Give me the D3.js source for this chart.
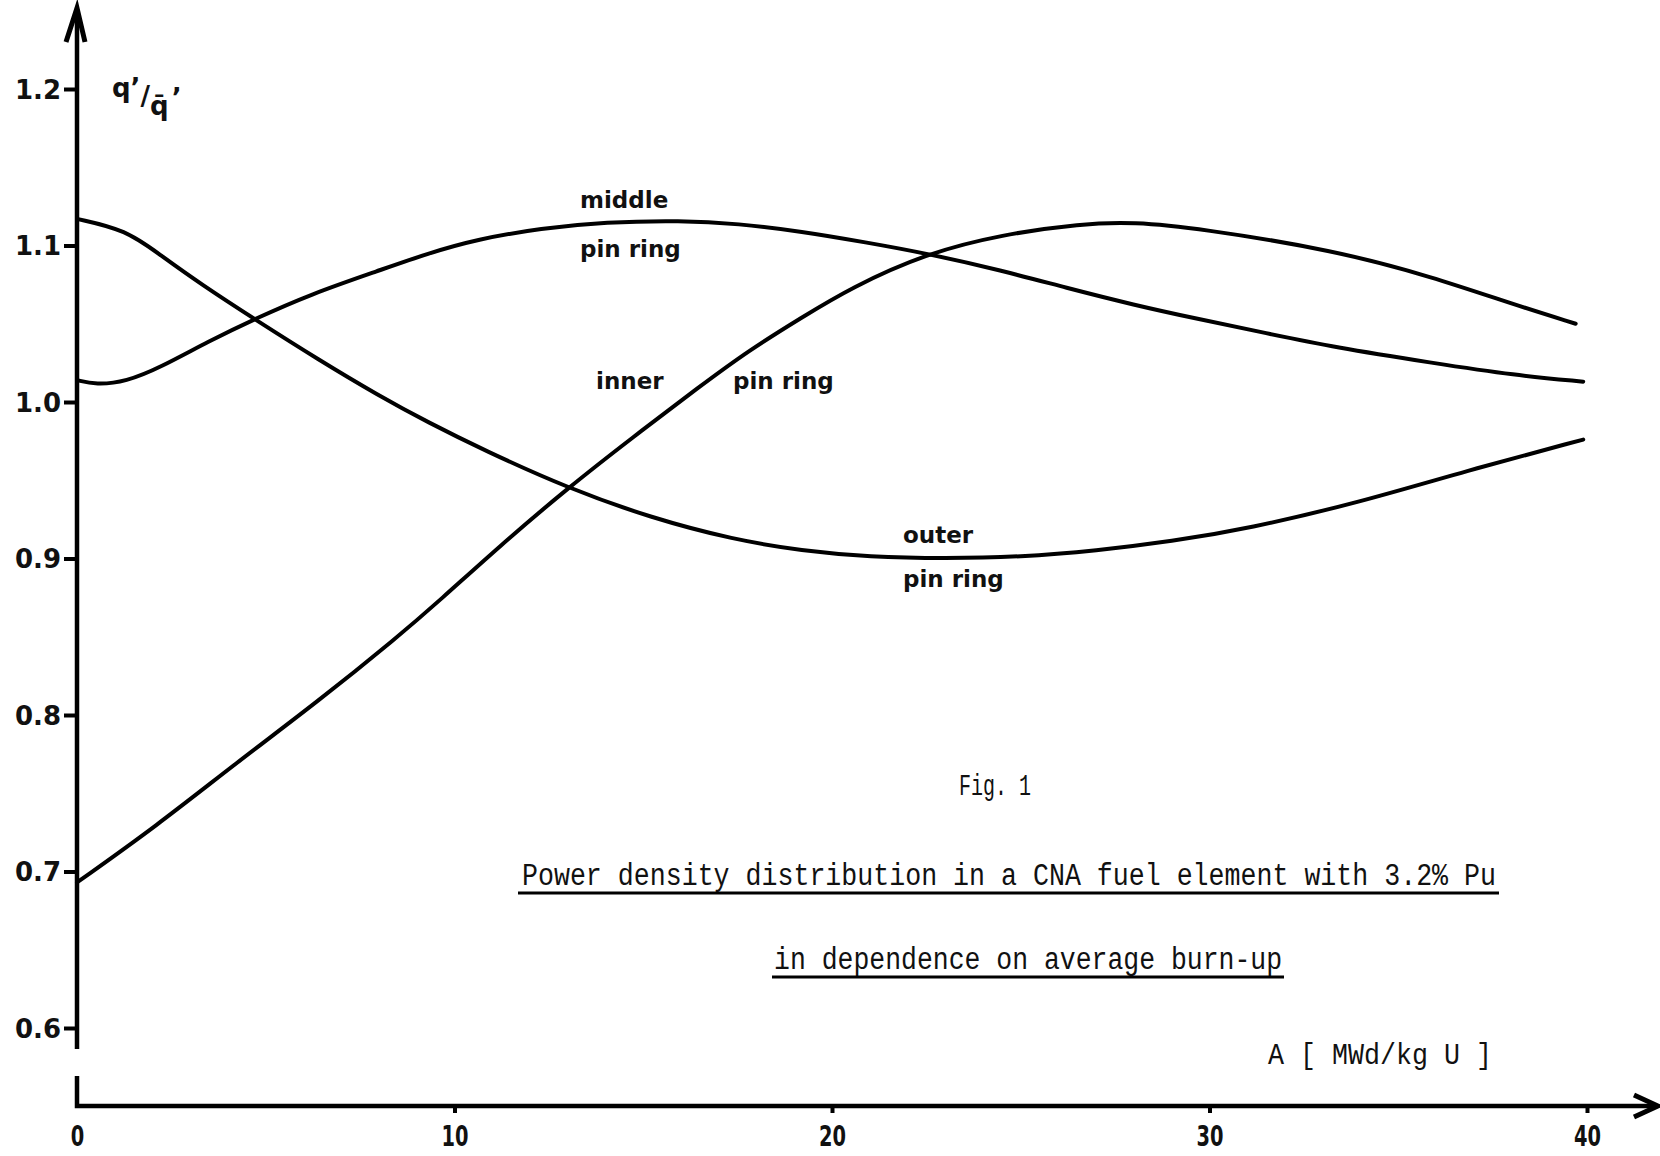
<!DOCTYPE html>
<html>
<head>
<meta charset="utf-8">
<script src="https://d3js.org/d3.v7.min.js"></script>
<style>
  body { margin: 0; background: #fff; }
  svg { display: block; }
  .curve { fill: none; stroke: #000; stroke-width: 4; stroke-linecap: round; stroke-linejoin: round; }
  .lbl { font-family: "DejaVu Sans", sans-serif; font-weight: bold; font-size: 23px; fill: #111; }
  .typed { font-family: "Liberation Mono", "DejaVu Sans Mono", monospace; fill: #111; }
</style>
</head>
<body>
<svg id="chart" width="1660" height="1156"></svg>
<script>
// burn-up A [MWd/kg U] and relative power q'/q'mean
var innerX = [0, 2.1, 4.2, 6.4, 8.5, 9.6, 11.2, 13, 14.7, 16.5, 17.8, 19.2, 20.5, 22.5, 24.5, 26.6, 28, 29.7, 33.3, 35.9, 38.1, 39.7];
var innerQ = [0.693, 0.729, 0.769, 0.809, 0.850, 0.873, 0.908, 0.945, 0.977, 1.010, 1.033, 1.054, 1.073, 1.095, 1.107, 1.114, 1.115, 1.111, 1.097, 1.080, 1.062, 1.050];

var middleX = [0, 0.5, 1.3, 2.2, 3.5, 4.7, 6.2, 8, 9.3, 10.6, 12.3, 14, 16, 17.5, 19.2, 20.9, 22.5, 24.5, 26.2, 28, 29.7, 31.5, 33.3, 35.9, 38.1, 39.9];
var middleQ = [1.014, 1.011, 1.013, 1.022, 1.039, 1.053, 1.069, 1.084, 1.095, 1.104, 1.111, 1.115, 1.116, 1.114, 1.109, 1.102, 1.095, 1.084, 1.073, 1.062, 1.053, 1.044, 1.035, 1.025, 1.017, 1.013];

var outerX = [0, 1.3, 2.2, 3.3, 4.7, 6.4, 8, 9.3, 10.8, 13, 15.2, 17.4, 19.2, 21, 23, 25, 27, 29, 31, 34, 36.8, 39.9];
var outerQ = [1.117, 1.110, 1.094, 1.075, 1.053, 1.027, 1.004, 0.987, 0.969, 0.945, 0.926, 0.912, 0.905, 0.901, 0.900, 0.901, 0.905, 0.911, 0.919, 0.936, 0.956, 0.976];

var xTicks = [0, 10, 20, 30, 40];
var yTicks = [0.6, 0.7, 0.8, 0.9, 1.0, 1.1, 1.2];

var svg = d3.select("#chart");

var x = d3.scaleLinear().domain([0, 40]).range([77, 1587]);
var y = d3.scaleLinear().domain([0.6, 1.2]).range([1028, 89]);

// y axis: ticks + labels, then the long line with an arrow
var yAxis = svg.append("g")
    .attr("transform", "translate(" + x(0) + ",0)")
    .call(d3.axisLeft(y).tickValues(yTicks).tickSize(13).tickFormat(d3.format(".1f")));
yAxis.select(".domain").remove();
yAxis.selectAll(".tick line").attr("stroke", "#000").attr("stroke-width", 4);
yAxis.selectAll(".tick text")
    .attr("x", -62)
    .attr("dy", "0.36em")
    .attr("text-anchor", "start")
    .style("font-family", "DejaVu Sans, sans-serif")
    .style("font-weight", "bold")
    .style("font-size", "26px")
    .attr("fill", "#111");

svg.append("line")
    .attr("x1", x(0)).attr("x2", x(0))
    .attr("y1", 1049).attr("y2", 10)
    .attr("stroke", "#000").attr("stroke-width", 4.5);
svg.append("path")
    .attr("d", "M" + (x(0) - 11) + ",42 L" + x(0) + ",8 L" + (x(0) + 8) + ",42")
    .attr("fill", "none").attr("stroke", "#000").attr("stroke-width", 5)
    .attr("stroke-linejoin", "miter");

// x axis sits below, with its own short corner piece
var xAxisY = 1106;
var xAxis = svg.append("g")
    .attr("transform", "translate(0," + xAxisY + ")")
    .call(d3.axisBottom(x).tickValues(xTicks).tickSize(7).tickFormat(d3.format("d")));
xAxis.select(".domain").remove();
xAxis.selectAll(".tick line").attr("stroke", "#000").attr("stroke-width", 4)
    .filter(function(d) { return d === 0; }).remove();
xAxis.selectAll(".tick text")
    .attr("y", 40)
    .attr("dy", 0)
    .style("font-family", "DejaVu Sans, sans-serif")
    .style("font-weight", "bold")
    .style("font-size", "29px")
    .attr("fill", "#111")
    .each(function(d) {
      d3.select(this).attr("textLength", String(d).length * 13.5).attr("lengthAdjust", "spacingAndGlyphs");
    });

svg.append("path")
    .attr("d", "M" + x(0) + ",1076 L" + x(0) + "," + xAxisY + " L1656," + xAxisY)
    .attr("fill", "none").attr("stroke", "#000").attr("stroke-width", 4.5);
svg.append("path")
    .attr("d", "M1634,1095 L1658," + xAxisY + " L1634,1117")
    .attr("fill", "none").attr("stroke", "#000").attr("stroke-width", 5);

// curves
var line = d3.line()
    .x(function(d) { return x(d[0]); })
    .y(function(d) { return y(d[1]); })
    .curve(d3.curveBasis);

[[innerX, innerQ], [middleX, middleQ], [outerX, outerQ]].forEach(function(s) {
  svg.append("path")
      .attr("class", "curve")
      .attr("d", line(d3.zip(s[0], s[1])));
});

// curve labels
var labels = [
  ["middle", 580, 208], ["pin ring", 580, 257],
  ["inner", 596, 389], ["pin ring", 733, 389],
  ["outer", 903, 543], ["pin ring", 903, 587]
];
svg.selectAll(".lbl").data(labels).enter().append("text")
    .attr("class", "lbl")
    .attr("x", function(d) { return d[1]; })
    .attr("y", function(d) { return d[2]; })
    .text(function(d) { return d[0]; });

// y axis title q'/q-bar'
var yt = svg.append("text")
    .attr("x", 112).attr("y", 97)
    .style("font-family", "DejaVu Sans, sans-serif")
    .style("font-weight", "bold")
    .style("font-size", "26px")
    .attr("fill", "#111");
yt.append("tspan").text("q\u2019");
yt.append("tspan").attr("dy", 8).text("/");
yt.append("tspan").attr("dy", 10).text("q\u0304");
yt.append("tspan").attr("dy", -8).attr("dx", 3).text("\u2019");

// typed captions
svg.append("text").attr("class", "typed")
    .attr("x", 959).attr("y", 795)
    .style("font-size", "29px")
    .attr("textLength", 72).attr("lengthAdjust", "spacingAndGlyphs")
    .text("Fig. 1");

var caption1 = "Power density distribution in a CNA fuel element with 3.2% Pu";
var caption2 = "in dependence on average burn-up";
svg.append("text").attr("class", "typed")
    .attr("x", 522).attr("y", 885)
    .style("font-size", "31px")
    .attr("textLength", 974).attr("lengthAdjust", "spacingAndGlyphs")
    .text(caption1);
svg.append("line")
    .attr("x1", 518).attr("x2", 1499).attr("y1", 893).attr("y2", 893)
    .attr("stroke", "#000").attr("stroke-width", 3);

svg.append("text").attr("class", "typed")
    .attr("x", 774).attr("y", 969)
    .style("font-size", "31px")
    .attr("textLength", 508).attr("lengthAdjust", "spacingAndGlyphs")
    .text(caption2);
svg.append("line")
    .attr("x1", 772).attr("x2", 1284).attr("y1", 977).attr("y2", 977)
    .attr("stroke", "#000").attr("stroke-width", 3);

svg.append("text").attr("class", "typed")
    .attr("x", 1268).attr("y", 1064)
    .style("font-size", "29px")
    .attr("textLength", 224).attr("lengthAdjust", "spacingAndGlyphs")
    .text("A [ MWd/kg U ]");
</script>
</body>
</html>
